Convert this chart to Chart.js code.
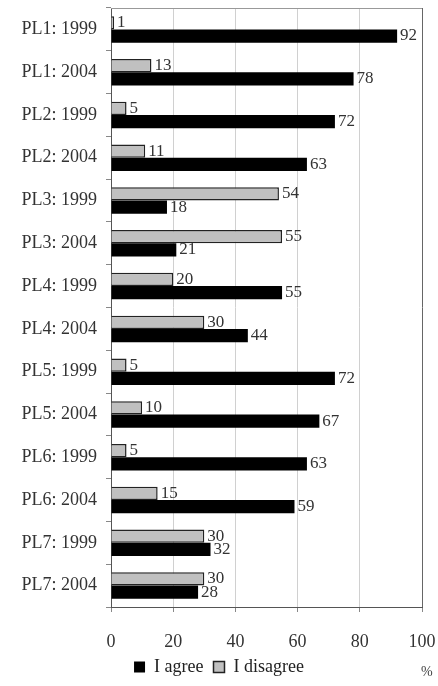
<!DOCTYPE html>
<html>
<head>
<meta charset="utf-8">
<script src="https://cdn.jsdelivr.net/npm/chart.js@4"></script>
<style>
html,body{margin:0;padding:0;background:#fff;}
#wrap{width:438px;height:686px;position:relative;}
</style>
</head>
<body>
<div id="wrap"><canvas id="c" width="438" height="686"></canvas></div>
<script>
const categories = ["PL1: 1999","PL1: 2004","PL2: 1999","PL2: 2004","PL3: 1999","PL3: 2004","PL4: 1999","PL4: 2004","PL5: 1999","PL5: 2004","PL6: 1999","PL6: 2004","PL7: 1999","PL7: 2004"];
const agree    = [92, 78, 72, 63, 18, 21, 55, 44, 72, 67, 63, 59, 32, 28];
const disagree = [ 1, 13,  5, 11, 54, 55, 20, 30,  5, 10,  5, 15, 30, 30];
const xTicks = [0, 20, 40, 60, 80, 100];
const seriesNames = ["I agree", "I disagree"];
const unitLabel = "%";

const FONT = "'Liberation Serif', 'DejaVu Serif', serif";

const extras = {
  id: 'extras',
  beforeDatasetsDraw(chart) {
    const {ctx, chartArea: a} = chart;
    ctx.save();
    ctx.strokeStyle = '#999';
    ctx.lineWidth = 1;
    ctx.beginPath();
    ctx.moveTo(a.left, a.top + 0.5);
    ctx.lineTo(a.right, a.top + 0.5);
    ctx.stroke();
    ctx.restore();
  },
  afterDatasetsDraw(chart) {
    const {ctx} = chart;
    ctx.save();
    ctx.font = "17px " + FONT;
    ctx.fillStyle = '#333';
    ctx.textAlign = 'left';
    ctx.textBaseline = 'middle';
    chart.data.datasets.forEach((ds, di) => {
      const meta = chart.getDatasetMeta(di);
      meta.data.forEach((bar, i) => {
        ctx.fillText(String(ds.data[i]), bar.x + 3, bar.y);
      });
    });
    ctx.font = "14px " + FONT;
    ctx.fillStyle = '#444';
    ctx.fillText(unitLabel, 421, 672);
    ctx.restore();
  }
};

new Chart(document.getElementById('c'), {
  type: 'bar',
  data: {
    labels: categories,
    datasets: [
      { label: seriesNames[1], data: disagree, backgroundColor: '#c0c0c0', borderColor: '#222', borderWidth: 1.5, categoryPercentage: 0.62, barPercentage: 1.0 },
      { label: seriesNames[0], data: agree, backgroundColor: '#000', borderColor: '#000', borderWidth: 0, categoryPercentage: 0.62, barPercentage: 1.0 }
    ]
  },
  options: {
    indexAxis: 'y',
    responsive: false,
    animation: false,
    layout: { padding: { left: 0, right: 0, top: 8, bottom: 0 } },
    plugins: {
      legend: {
        display: true,
        position: 'bottom',
        reverse: true,
        labels: {
          font: { family: FONT, size: 18 },
          color: '#222',
          boxWidth: 11,
          boxHeight: 11,
          padding: 10
        }
      },
      tooltip: { enabled: false }
    },
    scales: {
      x: {
        type: 'linear',
        min: 0, max: 100,
        afterBuildTicks(scale) { scale.ticks = xTicks.map(v => ({value: v})); },
        afterFit(scale) { scale.height = 41; scale.paddingRight = 16; scale.paddingLeft = 0; },
        ticks: { font: { family: FONT, size: 18 }, color: '#333', padding: 19 },
        grid: {
          color: (c) => c.tick && c.tick.value === 100 ? '#666' : '#d0d0d0',
          lineWidth: 1,
          tickLength: 5,
          tickColor: '#888'
        },
        border: { color: '#555', width: 1 }
      },
      y: {
        type: 'category',
        offset: true,
        afterFit(scale) { scale.width = 111; scale.paddingTop = 0; scale.paddingBottom = 0; },
        ticks: { font: { family: FONT, size: 18 }, color: '#333', padding: 9 },
        grid: { offset: true, drawOnChartArea: false, tickLength: 5, tickColor: '#888' },
        border: { color: '#555', width: 1 }
      }
    }
  },
  plugins: [extras]
});
</script>
</body>
</html>
